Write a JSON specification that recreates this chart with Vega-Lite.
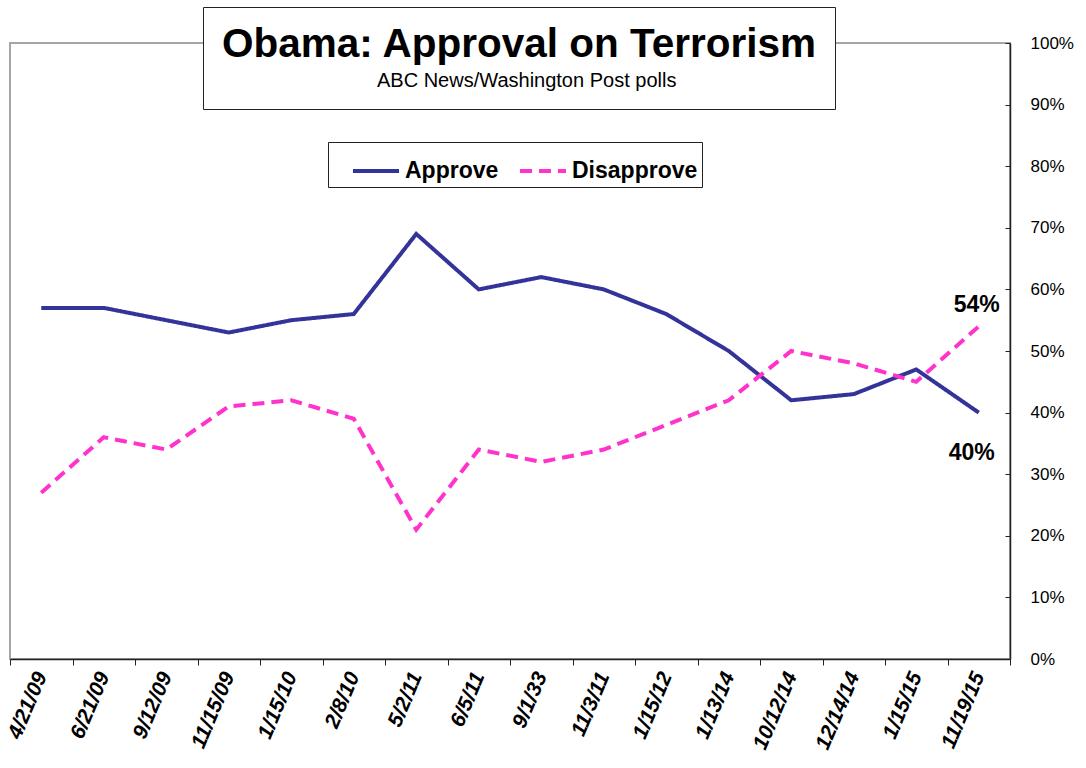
{
  "$schema": "https://vega.github.io/schema/vega-lite/v6.json",
  "autosize": {"type": "none"},
  "width": 1000,
  "height": 616,
  "padding": {"left": 10, "top": 43, "right": 76, "bottom": 109},
  "background": "white",
  "config": {
    "font": "Liberation Sans",
    "view": {"stroke": "#A6A6A6", "strokeWidth": 2}
  },
  "datasets": {
    "polls": [
      {"date": "4/21/09", "series": "Approve", "value": 57},
      {"date": "6/21/09", "series": "Approve", "value": 57},
      {"date": "9/12/09", "series": "Approve", "value": 55},
      {"date": "11/15/09", "series": "Approve", "value": 53},
      {"date": "1/15/10", "series": "Approve", "value": 55},
      {"date": "2/8/10", "series": "Approve", "value": 56},
      {"date": "5/2/11", "series": "Approve", "value": 69},
      {"date": "6/5/11", "series": "Approve", "value": 60},
      {"date": "9/1/33", "series": "Approve", "value": 62},
      {"date": "11/3/11", "series": "Approve", "value": 60},
      {"date": "1/15/12", "series": "Approve", "value": 56},
      {"date": "1/13/14", "series": "Approve", "value": 50},
      {"date": "10/12/14", "series": "Approve", "value": 42},
      {"date": "12/14/14", "series": "Approve", "value": 43},
      {"date": "1/15/15", "series": "Approve", "value": 47},
      {"date": "11/19/15", "series": "Approve", "value": 40},
      {"date": "4/21/09", "series": "Disapprove", "value": 27},
      {"date": "6/21/09", "series": "Disapprove", "value": 36},
      {"date": "9/12/09", "series": "Disapprove", "value": 34},
      {"date": "11/15/09", "series": "Disapprove", "value": 41},
      {"date": "1/15/10", "series": "Disapprove", "value": 42},
      {"date": "2/8/10", "series": "Disapprove", "value": 39},
      {"date": "5/2/11", "series": "Disapprove", "value": 21},
      {"date": "6/5/11", "series": "Disapprove", "value": 34},
      {"date": "9/1/33", "series": "Disapprove", "value": 32},
      {"date": "11/3/11", "series": "Disapprove", "value": 34},
      {"date": "1/15/12", "series": "Disapprove", "value": 38},
      {"date": "1/13/14", "series": "Disapprove", "value": 42},
      {"date": "10/12/14", "series": "Disapprove", "value": 50},
      {"date": "12/14/14", "series": "Disapprove", "value": 48},
      {"date": "1/15/15", "series": "Disapprove", "value": 45},
      {"date": "11/19/15", "series": "Disapprove", "value": 54}
    ],
    "source": [
      {"source": "ABC News/Washington  Post polls"}
    ]
  },
  "data": {"name": "polls"},
  "encoding": {
    "x": {
      "field": "date",
      "type": "nominal",
      "sort": null,
      "bandPosition": 0.5,
      "scale": {"type": "band", "paddingInner": 0, "paddingOuter": 0},
      "axis": {
        "title": null,
        "tickBand": "extent",
        "tickSize": 6,
        "tickColor": "#222222",
        "domainColor": "#222222",
        "domainWidth": 1.5,
        "labelAngle": -67,
        "labelAlign": "right",
        "labelBaseline": "middle",
        "labelPadding": 8,
        "labelFont": "Liberation Sans",
        "labelFontSize": 21,
        "labelFontWeight": "bold",
        "labelFontStyle": "italic",
        "labelColor": "black",
        "labelOverlap": false
      }
    },
    "y": {
      "field": "value",
      "type": "quantitative",
      "scale": {"domain": [0, 100], "nice": false},
      "axis": {
        "orient": "right",
        "title": null,
        "grid": false,
        "values": [0, 10, 20, 30, 40, 50, 60, 70, 80, 90, 100],
        "labelExpr": "datum.value + '%'",
        "tickSize": -5,
        "tickColor": "#222222",
        "domainColor": "#222222",
        "domainWidth": 1.5,
        "labelPadding": 25,
        "labelFontSize": 17,
        "labelColor": "black"
      }
    }
  },
  "layer": [
    {
      "mark": {"type": "line", "strokeWidth": 4},
      "encoding": {
        "color": {
          "field": "series",
          "type": "nominal",
          "scale": {"domain": ["Approve", "Disapprove"], "range": ["#333399", "#FF33CC"]},
          "legend": {
            "title": null,
            "orient": "none",
            "legendX": 318,
            "legendY": 99,
            "direction": "horizontal",
            "strokeColor": "#222222",
            "fillColor": "white",
            "padding": 4,
            "symbolOffset": 19,
            "columnPadding": 0,
            "symbolType": "stroke",
            "symbolSize": 2116,
            "symbolStrokeWidth": 4,
            "labelOffset": 4,
            "labelFontSize": 23,
            "labelFontWeight": "bold",
            "labelColor": "black"
          }
        },
        "strokeDash": {
          "field": "series",
          "type": "nominal",
          "scale": {"domain": ["Approve", "Disapprove"], "range": [[1, 0], [12, 7]]},
          "legend": null
        }
      }
    },
    {
      "transform": [
        {"filter": "datum.date == '11/19/15' && datum.series == 'Disapprove'"},
        {"calculate": "datum.value + '%'", "as": "label"}
      ],
      "mark": {"type": "text", "dy": -21, "dx": -2, "fontSize": 23, "fontWeight": "bold", "color": "black"},
      "encoding": {"text": {"field": "label"}}
    },
    {
      "transform": [
        {"filter": "datum.date == '11/19/15' && datum.series == 'Approve'"},
        {"calculate": "datum.value + '%'", "as": "label"}
      ],
      "mark": {"type": "text", "dy": 40, "dx": -7, "fontSize": 23, "fontWeight": "bold", "color": "black"},
      "encoding": {"text": {"field": "label"}}
    },
    {
      "data": {"name": "source"},
      "mark": {"type": "point", "opacity": 0},
      "encoding": {
        "x": {"value": 0},
        "y": {"value": 0},
        "shape": {
          "field": "source",
          "type": "nominal",
          "legend": {
            "title": "Obama: Approval on Terrorism",
            "orient": "none",
            "legendX": 193,
            "legendY": -36,
            "strokeColor": "#222222",
            "fillColor": "white",
            "padding": 18,
            "titleFontSize": 40.5,
            "titleFontWeight": "bold",
            "titleColor": "black",
            "titleAnchor": "middle",
            "titlePadding": 5,
            "titleLimit": 1000,
            "symbolSize": 0,
            "symbolOpacity": 0,
            "symbolStrokeWidth": 0,
            "labelOffset": 0,
            "labelFontSize": 20,
            "labelColor": "black",
            "labelLimit": 500
          }
        }
      }
    }
  ]
}
